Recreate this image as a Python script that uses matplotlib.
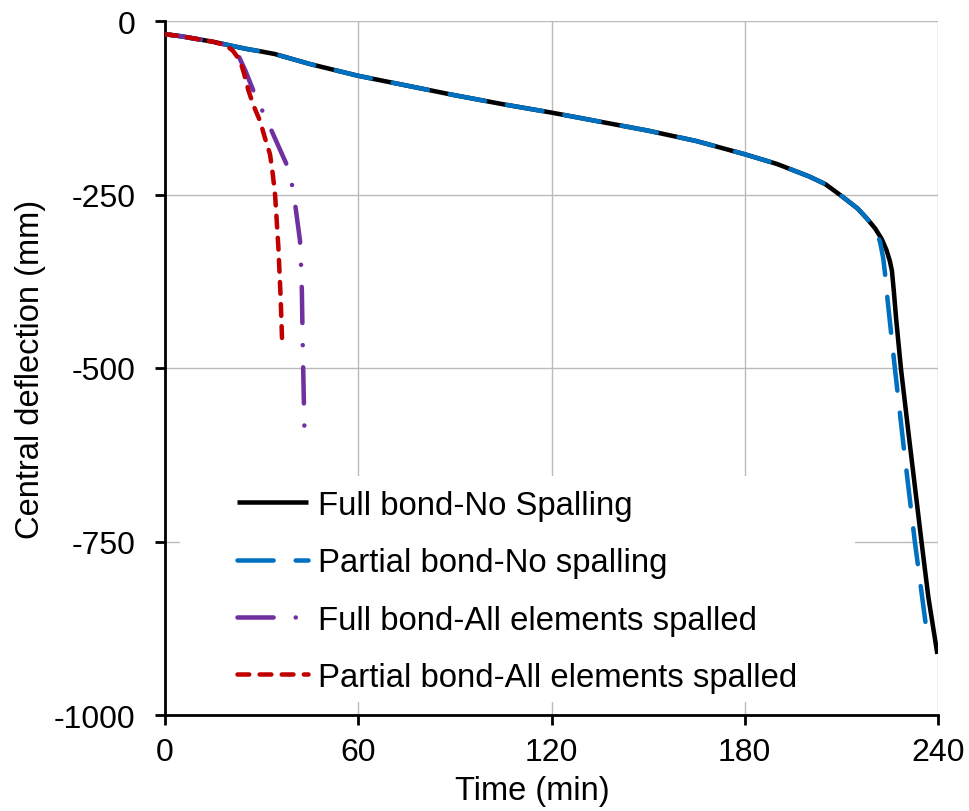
import matplotlib
matplotlib.use("Agg")
import matplotlib.pyplot as plt
from matplotlib.patches import Rectangle

plt.rcParams['font.family'] = ['Liberation Sans', 'DejaVu Sans']
plt.rcParams['axes.unicode_minus'] = False

# ---- data ----
full_nospall_t = [0, 5, 10, 15, 20, 25, 30, 34, 45, 60, 75, 90, 105, 120, 135, 150,
                  165, 180, 190, 200, 205, 210, 215, 218, 220.5, 222.5, 224, 225,
                  225.7, 226.3, 227, 228.5, 231, 234.9, 237, 239.8]
full_nospall_d = [-19, -22, -26, -30, -35, -40, -44, -47.5, -62, -79, -93, -107, -120,
                  -132, -145, -158, -173, -192, -206, -224, -235, -252, -270, -285,
                  -299, -314, -330, -345, -360, -390, -429, -501, -600, -751, -830, -912]

partial_nospall_t = [0, 5, 10, 15, 20, 25, 30, 34, 45, 60, 75, 90, 105, 120, 135, 150,
                     165, 180, 190, 200, 205, 210, 215, 218, 220.5, 222, 223, 223.7,
                     224.3, 226.6, 229.5, 232.8, 236.3]
partial_nospall_d = [-19, -22, -26, -30, -35, -40, -44, -47.5, -62, -79, -93, -107, -120,
                     -132, -145, -158, -173, -192, -206, -224, -235, -252, -270, -285,
                     -300, -318, -342, -370, -400, -500, -620, -750, -873]

full_spall_t = [0, 5, 10, 15, 20, 22.8, 25, 27.4, 30, 32.6, 35, 37.6, 39.3, 40.4,
                41.9, 42.2, 42.5, 42.7, 42.9, 43.3]
full_spall_d = [-19, -22, -26, -30, -36, -50, -72, -100, -127, -153, -178, -205, -232,
                -264, -316, -346, -390, -450, -500, -590]

partial_spall_t = [0, 5, 10, 15, 19.1, 21.1, 23.3, 24.5, 25.9, 27.5, 29.5, 31, 32.6,
                   33.5, 34.2, 35.2, 35.9, 36.4]
partial_spall_d = [-19, -22, -26, -30, -35.6, -43, -57, -75, -100, -122, -144, -168,
                   -192, -222, -252, -326, -398, -467]

labels = ["Full bond-No Spalling", "Partial bond-No spalling",
          "Full bond-All elements spalled", "Partial bond-All elements spalled"]
x_ticks = [0, 60, 120, 180, 240]
y_ticks = [0, -250, -500, -750, -1000]

# ---- figure ----
fig = plt.figure(figsize=(9.69, 8.12), dpi=100)
ax = fig.add_axes([165/969, 1-716/812, 773/969, 694/812])

lw = 3.25
ax.plot(full_nospall_t, full_nospall_d, color='#000000', lw=lw, label=labels[0],
        solid_capstyle='butt', solid_joinstyle='round', zorder=3)
ax.plot(partial_nospall_t, partial_nospall_d, color='#0070C0', lw=lw, label=labels[1],
        linestyle=(0, (8.0, 4.9)), dash_capstyle='round', dash_joinstyle='round', zorder=4)
ax.plot(full_spall_t, full_spall_d, color='#7030A0', lw=lw, label=labels[2],
        linestyle=(0, (8.0, 4.9, 0.01, 4.9)), dash_capstyle='round', zorder=5)
ax.plot(partial_spall_t, partial_spall_d, color='#C00000', lw=lw, label=labels[3],
        linestyle=(0, (2.6, 2.3)), dash_capstyle='round', zorder=6)

ax.set_xlim(0, 240)
ax.set_ylim(-1000, 0)
ax.set_xticks(x_ticks)
ax.set_yticks(y_ticks)

ax.set_axisbelow(True)
ax.grid(True, color='#BBBBBB', lw=1.0)
for s in ['top', 'right']:
    ax.spines[s].set_visible(False)
for s in ['left', 'bottom']:
    ax.spines[s].set_linewidth(2.0)
    ax.spines[s].set_color('black')

ax.tick_params(axis='both', direction='out', length=7, width=2.0, labelsize=23,
               colors='black')
ax.tick_params(axis='y', pad=14.5)
ax.tick_params(axis='x', pad=8.5)

ax.set_xlabel("Time (min)", fontsize=23.5)
ax.set_ylabel("Central deflection (mm)", fontsize=23.5)
ax.xaxis.set_label_coords((532-165)/773, -0.086)
ax.yaxis.set_label_coords((30-165)/773, 0.5)
ax.yaxis.label.set_va('center')

# white legend background covering the grid
ax.add_patch(Rectangle((15/773, 13/694), 675/773, 226/694, transform=ax.transAxes,
                       facecolor='white', edgecolor='none', zorder=1.5))

leg = ax.legend(loc='upper left', bbox_to_anchor=(72/773, (716-491)/694),
                frameon=False, fontsize=23.7, handlelength=2.15, handletextpad=0.3,
                labelspacing=0.8, borderpad=0, borderaxespad=0)
leg.set_zorder(7)

fig.savefig("out.png", dpi=100)
